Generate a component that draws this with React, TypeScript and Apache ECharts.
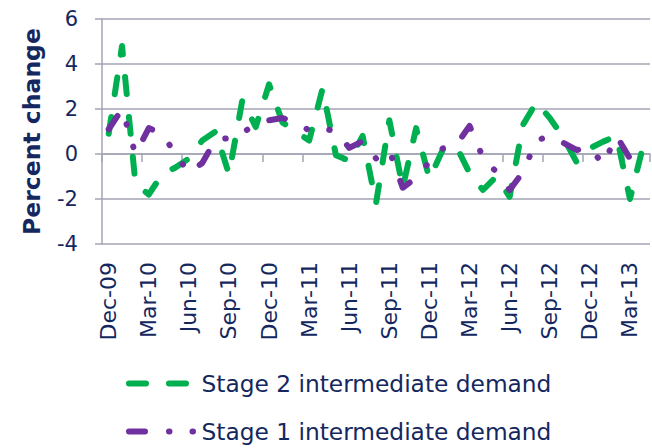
import React, { useEffect, useRef } from "react";
import * as echarts from "echarts";

const months = [
  "Dec-09", "Jan-10", "Feb-10", "Mar-10", "Apr-10", "May-10", "Jun-10", "Jul-10", "Aug-10", "Sep-10", "Oct-10", "Nov-10",
  "Dec-10", "Jan-11", "Feb-11", "Mar-11", "Apr-11", "May-11", "Jun-11", "Jul-11", "Aug-11", "Sep-11", "Oct-11", "Nov-11",
  "Dec-11", "Jan-12", "Feb-12", "Mar-12", "Apr-12", "May-12", "Jun-12", "Jul-12", "Aug-12", "Sep-12", "Oct-12", "Nov-12",
  "Dec-12", "Jan-13", "Feb-13", "Mar-13", "Apr-13",
];

const stage2Demand = [
  0.9, 4.8, -1.3, -1.8, -0.9, -0.6, -0.2, 0.6, 1.0, -0.9, 2.4, 1.2,
  3.1, 1.4, 1.0, 0.6, 2.9, -0.05, -0.3, 0.8, -2.2, 1.5, -1.5, 1.15,
  -1.1, 0.2, 0.35, -0.85, -1.6, -1.0, -1.9, 1.3, 2.3, 1.6, 0.75, -0.35,
  0.25, 0.55, 0.8, -2.0, 0.4,
];

const stage1Demand = [
  1.1, 2.0, 0.0, 1.15, 0.9, 0.0, -0.85, -0.4, 0.65, 0.7, 0.95, 1.3,
  1.5, 1.6, 1.4, 1.05, 1.15, 1.0, 0.27, 0.57, -0.2, 0.15, -1.5, -1.05,
  -0.35, 0.25, 0.4, 1.25, -0.15, -0.8, -1.6, -0.8, 0.6, 0.8, 0.5, 0.18,
  0.27, -0.45, 0.8, -0.2, -0.3,
];

const yMin = -4;
const yMax = 6;
const yStep = 2;

const seriesNames = ["Stage 2 intermediate demand", "Stage 1 intermediate demand"];

const NAVY = "#14285f";
const GRID = "#a3a5b4";
const GREEN = "#00b050";
const PURPLE = "#7030a0";
const FONT = "DejaVu Sans";

export default function App() {
  const ref = useRef<HTMLDivElement>(null);

  useEffect(() => {
    document.body.style.margin = "0";
    const chart = echarts.init(ref.current!, null, { renderer: "svg" });
    const legendBase = {
      left: 126,
      padding: 0,
      itemWidth: 64.5,
      itemHeight: 24,
      lineStyle: { width: 6 },
      itemStyle: { opacity: 0, color: "transparent", borderWidth: 0 },
      textStyle: {
        fontSize: 23.3,
        color: NAVY,
        fontFamily: FONT,
        padding: [0, 0, 0, 3],
      },
      selectedMode: false,
    };
    chart.setOption({
      animation: false,
      grid: { left: 102, top: 19, width: 548, height: 225, containLabel: false },
      legend: [
        { ...legendBase, data: [seriesNames[0]], top: 372 },
        { ...legendBase, data: [seriesNames[1]], top: 420 },
      ],
      xAxis: [
        {
          type: "category",
          data: months,
          boundaryGap: true,
          axisLine: { onZero: true, lineStyle: { color: GRID, width: 1.5 } },
          axisTick: { show: true, interval: 2, length: 8, lineStyle: { color: GRID, width: 1.5 } },
          axisLabel: { show: false },
          splitLine: { show: false },
        },
        {
          type: "category",
          data: months,
          position: "bottom",
          boundaryGap: true,
          axisLine: { show: false, onZero: false },
          axisTick: { show: false },
          axisLabel: {
            interval: 2,
            rotate: 90,
            margin: 18,
            fontSize: 22,
            color: NAVY,
            fontFamily: FONT,
          },
          splitLine: { show: false },
        },
      ],
      yAxis: {
        type: "value",
        min: yMin,
        max: yMax,
        interval: yStep,
        name: "Percent change",
        nameLocation: "middle",
        nameRotate: 90,
        nameGap: 58,
        nameTextStyle: { fontSize: 23.5, fontWeight: "bold", color: NAVY, fontFamily: FONT },
        axisLine: { show: true, lineStyle: { color: GRID, width: 1.5 } },
        axisTick: { show: true, length: 7, lineStyle: { color: GRID, width: 1.5 } },
        axisLabel: { fontSize: 21, color: NAVY, fontFamily: FONT, margin: 24 },
        splitLine: { show: true, lineStyle: { color: GRID, width: 1.5 } },
      },
      series: [
        {
          name: seriesNames[0],
          type: "line",
          data: stage2Demand,
          symbol: "none",
          lineStyle: { color: GREEN, width: 6, type: [17, 23], cap: "round", join: "round" },
          itemStyle: { color: GREEN },
          z: 2,
        },
        {
          name: seriesNames[1],
          type: "line",
          data: stage1Demand,
          symbol: "none",
          lineStyle: { color: PURPLE, width: 6, type: [16, 24, 0.5, 23, 0.5, 24], cap: "round", join: "round" },
          itemStyle: { color: PURPLE },
          z: 3,
        },
      ],
    });
    return () => chart.dispose();
  }, []);

  return (
    <div
      ref={ref}
      style={{ position: "fixed", left: 0, top: 0, width: 652, height: 448, background: "#fff" }}
    />
  );
}
